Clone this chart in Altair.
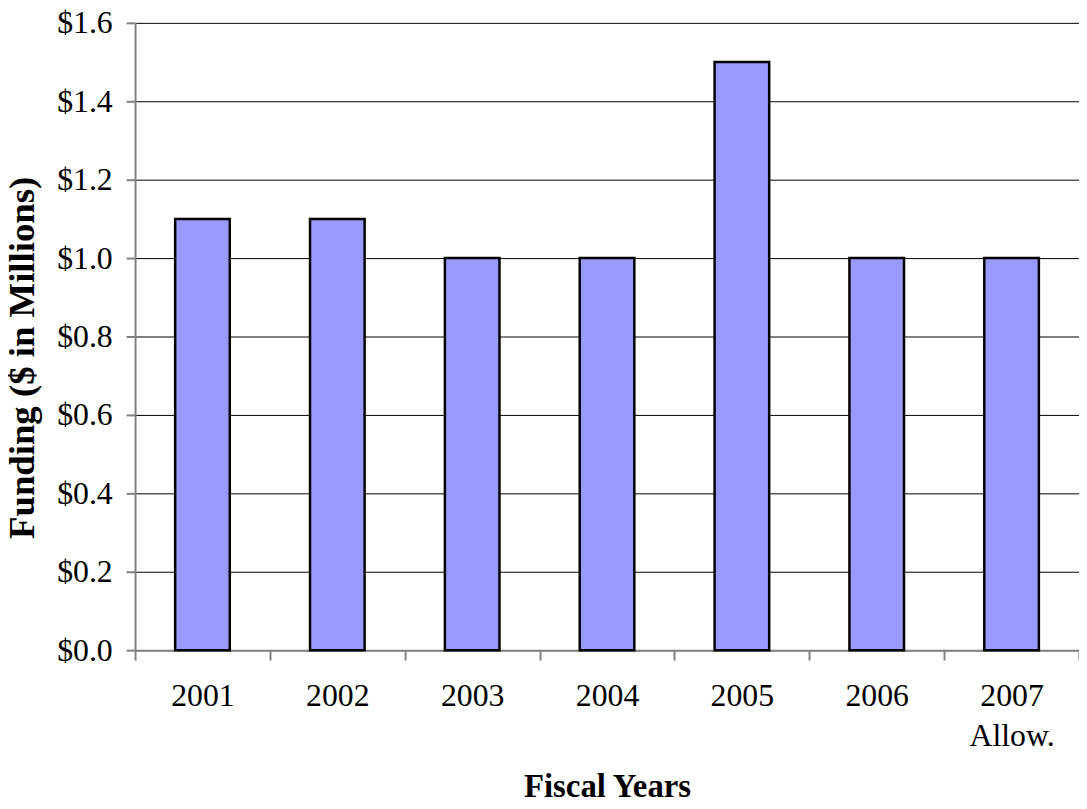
import altair as alt
import pandas as pd

years = ["2001", "2002", "2003", "2004", "2005", "2006", "2007|Allow."]
funding = [1.1, 1.1, 1.0, 1.0, 1.5, 1.0, 1.0]
y_ticks = [0.0, 0.2, 0.4, 0.6, 0.8, 1.0, 1.2, 1.4, 1.6]

df = pd.DataFrame({"year": years, "funding": funding})

FONT = "Liberation Serif"

chart = (
    alt.Chart(df)
    .mark_bar(size=55, fill="#9999FF", stroke="#000000", strokeWidth=2.5)
    .encode(
        x=alt.X(
            "year:N",
            sort=years,
            scale=alt.Scale(paddingInner=0, paddingOuter=0),
            axis=alt.Axis(
                title="Fiscal Years",
                labelExpr="split(datum.label, '|')",
                labelAngle=0,
                labelFont=FONT,
                labelFontSize=32,
                labelColor="#000000",
                labelLineHeight=40,
                labelBaseline="top",
                labelPadding=21,
                tickBand="extent",
                tickSize=10,
                tickColor="#808080",
                tickWidth=2,
                domainColor="#808080",
                domainWidth=2,
                grid=False,
                titleFont=FONT,
                titleFontSize=33,
                titleFontWeight="bold",
                titleColor="#000000",
                titleBaseline="alphabetic",
                titleY=147,
            ),
        ),
        y=alt.Y(
            "funding:Q",
            scale=alt.Scale(domain=[0, 1.6], nice=False),
            axis=alt.Axis(
                title="Funding ($ in Millions)",
                values=y_ticks,
                format="$.1f",
                labelFont=FONT,
                labelFontSize=32,
                labelColor="#000000",
                labelPadding=14,
                tickSize=9,
                tickColor="#808080",
                tickWidth=2,
                domainColor="#808080",
                domainWidth=2,
                grid=True,
                gridColor="#000000",
                gridWidth=1,
                titleFont=FONT,
                titleFontSize=37,
                titleFontWeight="bold",
                titleColor="#000000",
                titleAngle=-90,
                titleBaseline="bottom",
                titleX=-94,
                titleY=337,
            ),
        ),
    )
    .properties(
        width=951,
        height=632,
        autosize=alt.AutoSizeParams(type="none"),
        padding={"left": 128, "top": 12, "right": 0, "bottom": 149},
    )
    .configure_view(stroke=None)
)

chart.save("out.html", embed_options={"renderer": "svg", "actions": False})
